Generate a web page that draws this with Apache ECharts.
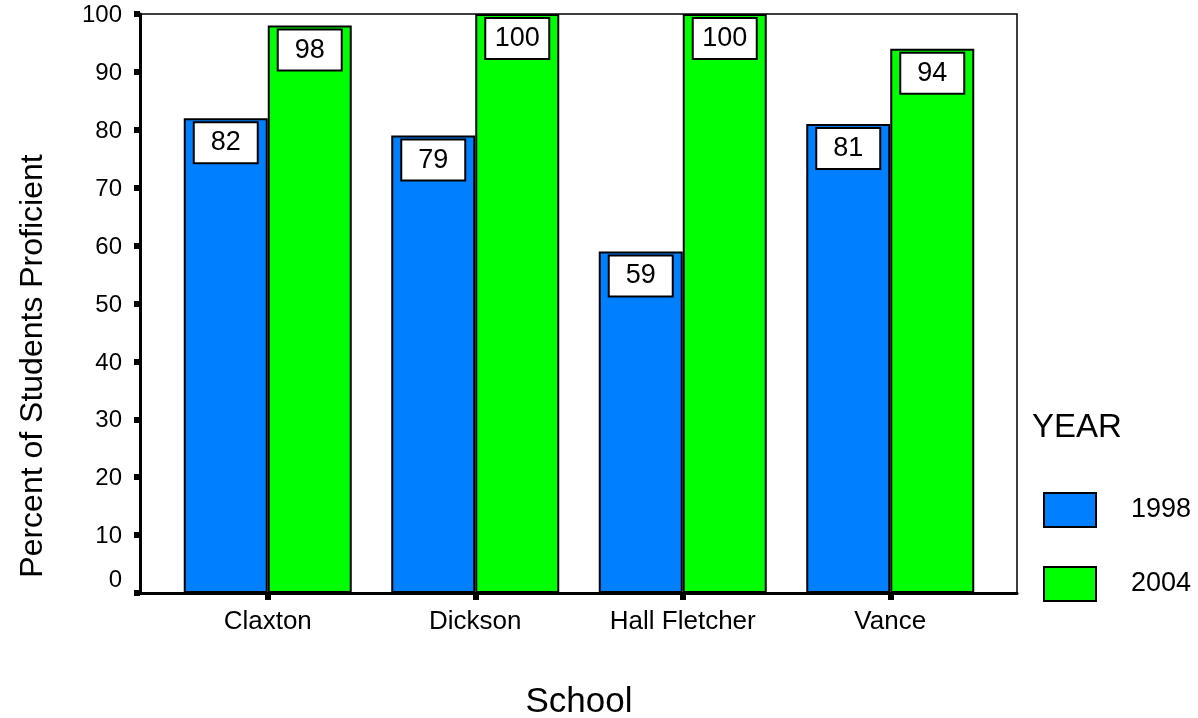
<!DOCTYPE html>
<html lang="en">
<head>
    <meta charset="UTF-8" />
    <title>Percent of Students Proficient</title>
    <script src="https://cdn.jsdelivr.net/npm/echarts@6/dist/echarts.min.js"></script>
    <style>
        html, body { margin: 0; padding: 0; background: #fff; }
        #main { width: 1198px; height: 718px; }
    </style>
</head>
<body>
<div id="main"></div>
<script>
    // data
    var schools = ['Claxton', 'Dickson', 'Hall Fletcher', 'Vance'];
    var years = ['1998', '2004'];
    var values1998 = [82, 79, 59, 81];
    var values2004 = [98, 100, 100, 94];
    var yTicks = [0, 10, 20, 30, 40, 50, 60, 70, 80, 90, 100];

    var font = 'Liberation Sans, Arial, sans-serif';
    var myChart = echarts.init(document.getElementById('main'));

    var barLabel = {
        show: true,
        position: 'insideTop',
        distance: 5,
        color: '#000',
        fontFamily: font,
        fontSize: 27,
        backgroundColor: '#fff',
        borderColor: '#000',
        borderWidth: 2,
        width: 62,
        height: 39,
        lineHeight: 39,
        align: 'center'
    };

    var option = {
        animation: false,
        backgroundColor: '#fff',
        textStyle: { fontFamily: font },
        title: {
            text: 'YEAR',
            left: 1027,
            top: 406,
            textStyle: { fontFamily: font, fontSize: 33, fontWeight: 'normal', color: '#000' }
        },
        legend: {
            orient: 'vertical',
            left: 1038,
            top: 487,
            itemWidth: 52,
            itemHeight: 34,
            itemGap: 38,
            icon: 'rect',
            data: years,
            itemStyle: { borderColor: '#000', borderWidth: 2 },
            textStyle: { fontFamily: font, fontSize: 27, color: '#000', padding: [0, 0, 0, 30] }
        },
        graphic: [{
            type: 'text',
            x: 33,
            y: 366,
            rotation: Math.PI / 2,
            style: {
                text: 'Percent of Students Proficient',
                fontFamily: font,
                fontSize: 32,
                fill: '#000',
                align: 'center',
                verticalAlign: 'middle'
            }
        }],
        grid: [
            { left: 140, right: 181, top: 14, bottom: 125, outerBoundsMode: 'none', show: true, borderColor: '#000', borderWidth: 1.5 },
            { left: 164, right: 204, top: 14, bottom: 125, outerBoundsMode: 'none' }
        ],
        xAxis: [{
            type: 'value',
            gridIndex: 0,
            min: 0,
            max: 1,
            axisLine: { show: true, onZero: false, lineStyle: { color: '#000', width: 3 } },
            axisTick: { show: false },
            axisLabel: { show: false },
            splitLine: { show: false }
        }, {
            type: 'category',
            gridIndex: 1,
            data: schools,
            name: 'School',
            nameLocation: 'middle',
            nameGap: 92,
            nameTextStyle: { fontFamily: font, fontSize: 35, color: '#000' },
            axisLine: { show: false },
            axisTick: { show: true, alignWithLabel: true, length: 7, lineStyle: { color: '#000', width: 6 } },
            axisLabel: { fontFamily: font, fontSize: 26, color: '#000', margin: 16 },
            splitLine: { show: false }
        }],
        yAxis: [{
            type: 'value',
            gridIndex: 0,
            min: 0,
            max: 100,
            interval: 10,
            axisLine: { show: true, lineStyle: { color: '#000', width: 3 } },
            axisTick: { show: true, length: 6, lineStyle: { color: '#000', width: 6 } },
            axisLabel: {
                fontFamily: font,
                fontSize: 24,
                color: '#000',
                margin: 18,
                padding: [3, 0, 0, 0],
                formatter: function (v) {
                    if (yTicks.indexOf(v) < 0) return '';
                    return v === 0 ? '{z|0}' : String(v);
                },
                rich: {
                    z: { fontFamily: font, fontSize: 24, color: '#000', padding: [0, 0, 28, 0] }
                }
            },
            splitLine: { show: false }
        }, {
            type: 'value',
            gridIndex: 1,
            min: 0,
            max: 100,
            show: false
        }],
        series: [{
            name: years[0],
            type: 'bar',
            xAxisIndex: 1,
            yAxisIndex: 1,
            data: values1998,
            barWidth: 84,
            barGap: '0%',
            itemStyle: { color: '#0080ff', borderColor: '#000', borderWidth: 2 },
            label: barLabel
        }, {
            name: years[1],
            type: 'bar',
            xAxisIndex: 1,
            yAxisIndex: 1,
            data: values2004,
            barWidth: 84,
            barGap: '0%',
            itemStyle: { color: '#00ff00', borderColor: '#000', borderWidth: 2 },
            label: barLabel
        }]
    };

    myChart.setOption(option);
</script>
</body>
</html>
